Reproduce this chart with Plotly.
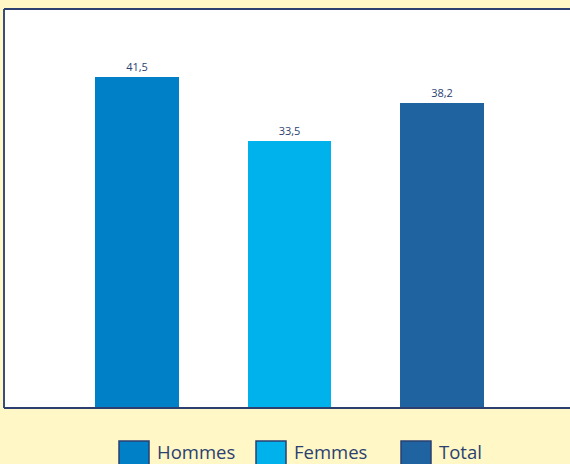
import plotly.graph_objects as go

categories = ["Hommes", "Femmes", "Total"]
values = [41.5, 33.5, 38.2]
labels = ["41,5", "33,5", "38,2"]
colors = ["#0080C6", "#00B2EB", "#1F64A0"]

W, H = 570, 464
ml, mr, mt, mb = 4, 0, 9, 56
pw = W - ml - mr
ph = H - mt - mb

navy = "#2B3F70"

fig = go.Figure()
fig.add_trace(go.Bar(
    x=categories, y=values, marker=dict(color=colors, line=dict(width=0)),
    width=0.55, text=labels, textposition="outside", cliponaxis=False,
    textfont=dict(size=11, color=navy, family="Open Sans"),
    showlegend=False, hoverinfo="skip",
))

def px2x(px):
    return (px - ml) / pw

def py2y(py):
    return (H - mb - py) / ph

shapes = [
    dict(type="line", xref="paper", yref="paper", x0=0, x1=0, y0=0, y1=1,
         line=dict(color="#3A4C7E", width=2)),
    dict(type="line", xref="paper", yref="paper", x0=0, x1=1.01, y0=1, y1=1,
         line=dict(color=navy, width=2)),
    dict(type="line", xref="paper", yref="paper", x0=0, x1=1.01, y0=0, y1=0,
         line=dict(color=navy, width=2)),
]
annotations = []
legend_x = [119, 256, 401]
for cat, col, lx in zip(categories, colors, legend_x):
    shapes.append(dict(type="rect", xref="paper", yref="paper",
                       x0=px2x(lx), x1=px2x(lx + 30), y0=py2y(441), y1=py2y(472),
                       fillcolor=col, line=dict(color=navy, width=1.5)))
    annotations.append(dict(xref="paper", yref="paper", x=px2x(lx + 36), y=py2y(451.5),
                            xanchor="left", yanchor="middle", showarrow=False,
                            text=cat, font=dict(size=18.5, color=navy, family="Open Sans")))

fig.update_layout(
    width=W, height=H, margin=dict(l=ml, r=mr, t=mt, b=mb),
    paper_bgcolor="#FFF7C6", plot_bgcolor="white",
    separators=", ",
    xaxis=dict(range=[-0.872, -0.872 + pw / 152.5], showticklabels=False,
               showgrid=False, zeroline=False, showline=False, fixedrange=True),
    yaxis=dict(range=[0, 50], showticklabels=False, showgrid=False,
               zeroline=False, showline=False, fixedrange=True),
    shapes=shapes, annotations=annotations, bargap=0,
)
fig.write_html("out.html", config={"displayModeBar": False},
               post_script="document.body.style.margin='0';document.body.style.overflow='hidden';")
